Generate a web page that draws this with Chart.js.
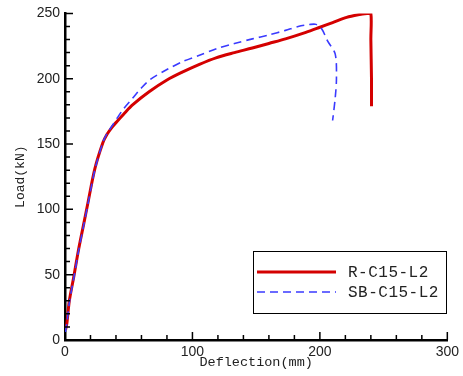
<!DOCTYPE html>
<html>
<head>
<meta charset="utf-8">
<script src="https://cdn.jsdelivr.net/npm/chart.js@4"></script>
<style>
  html, body { margin: 0; padding: 0; background: #fff; }
  #wrap { width: 463px; height: 376px; }
</style>
</head>
<body>
<div id="wrap"><canvas id="myChart"></canvas></div>
<script>
    // R-C15-L2 (solid red)
    const redDefl = [0.5, 1.5, 3.4, 7, 10.4, 14.3, 18.2, 23.4, 29.7, 33, 37, 41, 47, 53, 66, 80, 92, 105.5, 118.5, 133, 147, 160, 173, 189, 199, 210, 221, 230, 237, 240, 240, 240.5, 240.5];
    const redLoad = [8, 13, 30, 49, 68, 87, 106, 131, 151, 157.5, 163, 167.5, 174, 180, 190, 199, 205, 211, 216, 220, 223.5, 227, 230.5, 235.5, 239, 243, 247, 249, 250, 250, 230, 200, 179];

    // SB-C15-L2 (dashed blue)
    const blueDefl = [0.3, 1.5, 3.6, 7.2, 10.6, 14.5, 18.4, 23.6, 30, 33, 37, 41, 46, 53, 60, 67, 80, 92, 105.5, 119, 133, 147, 160, 173, 183, 192, 197, 201.5, 206, 212, 213, 212, 210];
    const blueLoad = [6, 13, 30, 49, 68, 87, 106, 131, 152, 158, 164, 170, 177, 185, 193, 199.5, 207, 213, 218, 223, 227, 230.5, 233.5, 237, 240, 241.5, 241.6, 238, 229, 219, 200, 185, 168];

    const seriesNames = ['R-C15-L2', 'SB-C15-L2'];
    const xTicks = [0, 100, 200, 300];
    const yTicks = [0, 50, 100, 150, 200, 250];

    function toPoints(xs, ys) {
        return xs.map((x, i) => ({ x: x, y: ys[i] }));
    }

    // ticks pointing into the plot, major + minor
    const inwardTicks = {
        id: 'inwardTicks',
        afterDraw(chart) {
            const ctx = chart.ctx;
            const xs = chart.scales.x, ys = chart.scales.y;
            const area = chart.chartArea;
            ctx.save();
            ctx.strokeStyle = '#000';
            ctx.lineWidth = 1.5;
            ctx.beginPath();
            for (let v = 0; v <= 300; v += 20) {
                const px = xs.getPixelForValue(v);
                const len = v % 100 === 0 ? 8 : 5;
                ctx.moveTo(px, area.bottom);
                ctx.lineTo(px, area.bottom - len);
            }
            for (let v = 0; v <= 250; v += 10) {
                const py = ys.getPixelForValue(v);
                const len = v % 50 === 0 ? 8 : 5;
                ctx.moveTo(area.left, py);
                ctx.lineTo(area.left + len, py);
            }
            ctx.stroke();
            ctx.restore();
        }
    };

    // boxed legend in the lower right
    const boxLegend = {
        id: 'boxLegend',
        afterDraw(chart) {
            const ctx = chart.ctx;
            const ds = chart.data.datasets;
            ctx.save();
            ctx.fillStyle = '#fff';
            ctx.fillRect(253, 251, 193, 62);
            ctx.strokeStyle = '#000';
            ctx.lineWidth = 1;
            ctx.strokeRect(253.5, 251.5, 193, 62);
            const rows = [272, 292];
            ds.forEach((d, i) => {
                ctx.beginPath();
                ctx.strokeStyle = d.borderColor;
                ctx.lineWidth = d.borderWidth;
                ctx.setLineDash(d.borderDash || []);
                ctx.moveTo(257, rows[i]);
                ctx.lineTo(336, rows[i]);
                ctx.stroke();
                ctx.setLineDash([]);
                ctx.fillStyle = '#222';
                ctx.font = '16px "Liberation Mono", "DejaVu Sans Mono", monospace';
                ctx.letterSpacing = '0.5px';
                ctx.textBaseline = 'middle';
                ctx.textAlign = 'left';
                ctx.fillText(seriesNames[i], 348, rows[i] + 1);
            });
            ctx.restore();
        }
    };

    new Chart('myChart', {
        type: 'line',
        data: {
            datasets: [{
                label: seriesNames[0],
                data: toPoints(redDefl, redLoad),
                borderColor: '#d40000',
                borderWidth: 3,
                pointRadius: 0,
                tension: 0.3,
                fill: false,
                order: 1
            }, {
                label: seriesNames[1],
                data: toPoints(blueDefl, blueLoad),
                borderColor: '#3a3aff',
                borderWidth: 1.6,
                borderDash: [8, 5],
                pointRadius: 0,
                tension: 0.3,
                fill: false,
                order: 0
            }]
        },
        options: {
            responsive: true,
            maintainAspectRatio: false,
            animation: false,
            layout: { padding: { top: 11, right: 14, bottom: 0, left: 0 } },
            plugins: {
                legend: { display: false },
                tooltip: { enabled: false }
            },
            scales: {
                x: {
                    type: 'linear',
                    min: 0,
                    max: 300,
                    afterBuildTicks(scale) { scale.ticks = xTicks.map(v => ({ value: v })); },
                    afterFit(scale) { scale.height = 36; },
                    grid: { display: false, drawTicks: false },
                    border: { display: true, color: '#000', width: 2.5 },
                    ticks: {
                        padding: 4,
                        color: '#222',
                        font: { family: '"Liberation Sans", Arial, sans-serif', size: 14 }
                    },
                    title: {
                        display: true,
                        text: 'Deflection(mm)',
                        color: '#222',
                        padding: { top: 0, bottom: 5 },
                        font: { family: '"Liberation Mono", "DejaVu Sans Mono", monospace', size: 13.5 }
                    }
                },
                y: {
                    type: 'linear',
                    min: 0,
                    max: 250,
                    afterBuildTicks(scale) { scale.ticks = yTicks.map(v => ({ value: v })); },
                    afterFit(scale) { scale.width = 65; },
                    grid: { display: false, drawTicks: false },
                    border: { display: true, color: '#000', width: 2.5 },
                    ticks: {
                        padding: 5,
                        color: '#222',
                        font: { family: '"Liberation Sans", Arial, sans-serif', size: 14 }
                    },
                    title: {
                        display: true,
                        text: 'Load(kN)',
                        color: '#222',
                        padding: { top: 13, bottom: 0 },
                        font: { family: '"Liberation Mono", "DejaVu Sans Mono", monospace', size: 13 }
                    }
                }
            }
        },
        plugins: [inwardTicks, boxLegend]
    });
</script>
</body>
</html>
